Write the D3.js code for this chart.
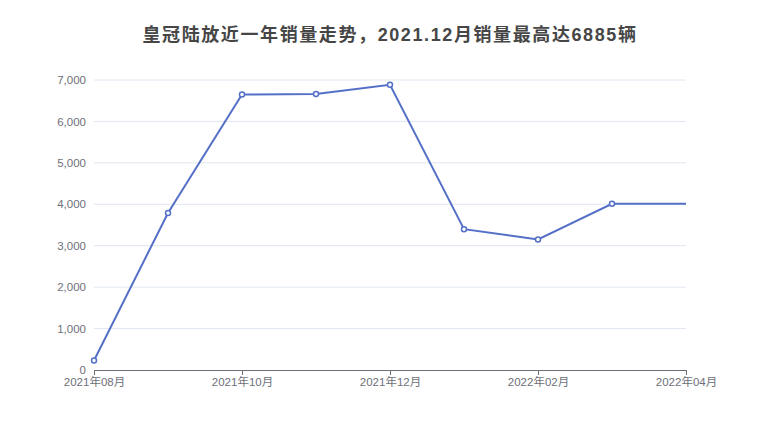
<!DOCTYPE html>
<html><head><meta charset="utf-8">
<script src="https://cdn.jsdelivr.net/npm/d3@7"></script>
<style>body{margin:0;background:#fff}</style></head>
<body><svg id="c" width="780" height="440"></svg>
<script>
const months = ["2021年08月","2021年09月","2021年10月","2021年11月","2021年12月","2022年01月","2022年02月","2022年03月","2022年04月"];
const sales = [230, 3790, 6650, 6660, 6885, 3400, 3150, 4010, 4010];
const yTicks = [0,1000,2000,3000,4000,5000,6000,7000];
const title = "皇冠陆放近一年销量走势，2021.12月销量最高达6885辆";

const svg = d3.select("#c");
const font = "'Liberation Sans','Noto Sans CJK SC',sans-serif";
const x = d3.scalePoint().domain(months).range([94,686]);
const y = d3.scaleLinear().domain([0,7000]).range([370,80]);

svg.append("text").attr("x",390).attr("y",41).attr("text-anchor","middle")
  .attr("font-family",font).attr("font-size",18).attr("letter-spacing",1.6).attr("font-weight","bold").attr("fill","#464646").text(title);

svg.append("g").selectAll("line").data(yTicks.filter(d=>d>0)).join("line")
  .attr("x1",94).attr("x2",686).attr("y1",d=>y(d)).attr("y2",d=>y(d))
  .attr("stroke","#e0e6f1").attr("stroke-width",1);

const ya = svg.append("g").attr("transform","translate(94,0)")
  .call(d3.axisLeft(y).tickValues(yTicks).tickFormat(d3.format(",")).tickSize(0).tickPadding(8));
ya.select(".domain").remove();
ya.selectAll("text").attr("font-family",font).attr("font-size",11.5).attr("fill","#6e7079");

const xa = svg.append("g").attr("transform","translate(0,370)")
  .call(d3.axisBottom(x).tickValues(months.filter((d,i)=>i%2===0)).tickSize(5).tickPadding(3).tickSizeOuter(0));
xa.select(".domain").attr("stroke","#6e7079");
xa.selectAll(".tick line").attr("stroke","#6e7079");
xa.selectAll("text").attr("font-family",font).attr("font-size",11.5).attr("fill","#6e7079");

const line = d3.line().x((d,i)=>x(months[i])).y(d=>y(d));
svg.append("path").datum(sales).attr("d",line).attr("fill","none").attr("stroke","#5470c6").attr("stroke-width",2);
svg.selectAll("circle.pt").data(sales.slice(0,-1)).join("circle")
  .attr("cx",(d,i)=>x(months[i])).attr("cy",d=>y(d)).attr("r",2.5)
  .attr("fill","#fff").attr("stroke","#5470c6").attr("stroke-width",1.5);
</script></body></html>
